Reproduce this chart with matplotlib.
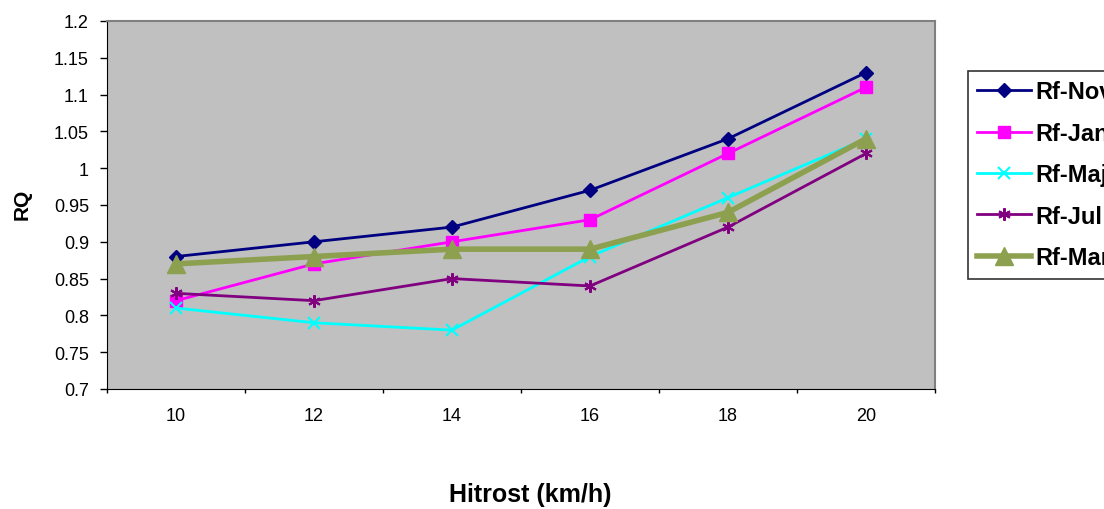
import matplotlib
matplotlib.use("Agg")
import matplotlib.pyplot as plt
import numpy as np

plt.rcParams['font.family'] = ['Liberation Sans', 'DejaVu Sans']

# hitrost categories (km/h)
speeds = ["10", "12", "14", "16", "18", "20"]

rf_nov = [0.88, 0.90, 0.92, 0.97, 1.04, 1.13]
rf_jan = [0.82, 0.87, 0.90, 0.93, 1.02, 1.11]
rf_maj = [0.81, 0.79, 0.78, 0.88, 0.96, 1.04]
rf_jul = [0.83, 0.82, 0.85, 0.84, 0.92, 1.02]
rf_mar = [0.87, 0.88, 0.89, 0.89, 0.94, 1.04]

fig = plt.figure(figsize=(11.04, 5.10), dpi=100)
ax = fig.add_axes([107/1104, 1 - 390/510, (935-107)/1104, (390-22)/510])
ax.set_facecolor("#C0C0C0")

x = np.arange(len(speeds))

ax.plot(x, rf_nov, color="#000080", lw=2, marker="D", ms=7, label="Rf-Nov")
ax.plot(x, rf_jan, color="#FF00FF", lw=2, marker="s", ms=9, label="Rf-Jan")
ax.plot(x, rf_maj, color="#00FFFF", lw=2, marker="x", ms=9, mew=1.5, label="Rf-Maj")
ax.plot(x, rf_jul, color="#800080", lw=2, marker=(6, 2, 0), ms=9, mew=1.5, label="Rf-Jul")
ax.plot(x, rf_mar, color="#8CA050", lw=4, marker="^", ms=13, label="Rf-Mar")

ax.set_xlim(-0.5, len(speeds) - 0.5)
ax.set_ylim(0.7, 1.2)
ax.set_yticks(np.arange(0.7, 1.2001, 0.05))
ax.set_yticklabels(["0.7", "0.75", "0.8", "0.85", "0.9", "0.95", "1", "1.05", "1.1", "1.15", "1.2"])
ax.set_xticks(x)
ax.set_xticklabels(speeds)
ax.set_xticks(np.arange(-0.5, len(speeds)), minor=True)
ax.tick_params(axis="x", which="major", length=0, pad=13, labelsize=13)
ax.tick_params(axis="x", which="minor", length=3, width=1, direction="out")
ax.tick_params(axis="y", length=5, width=1, direction="out", labelsize=13, pad=8)

for s in ["top", "right"]:
    ax.spines[s].set_color("#808080")
    ax.spines[s].set_linewidth(1.5)
ax.spines["left"].set_color("black")
ax.spines["bottom"].set_color("black")

fig.text(22/1104, 1 - 204/510, "RQ", ha="center", va="center", rotation=90,
         fontsize=15, fontweight="bold")
fig.text(530/1104, 1 - 495/510, "Hitrost (km/h)", ha="center", va="center",
         fontsize=18, fontweight="bold")

leg = ax.legend(loc="upper left", bbox_to_anchor=(968/1104, 1 - 72/510),
                bbox_transform=fig.transFigure, borderaxespad=0, frameon=True,
                fancybox=False, edgecolor="black", handlelength=2.25,
                labelspacing=0.78, borderpad=0.4, handletextpad=0.2,
                prop={"weight": "bold", "size": 17})
leg.get_frame().set_linewidth(1.2)

fig.savefig("out.png", dpi=100)
